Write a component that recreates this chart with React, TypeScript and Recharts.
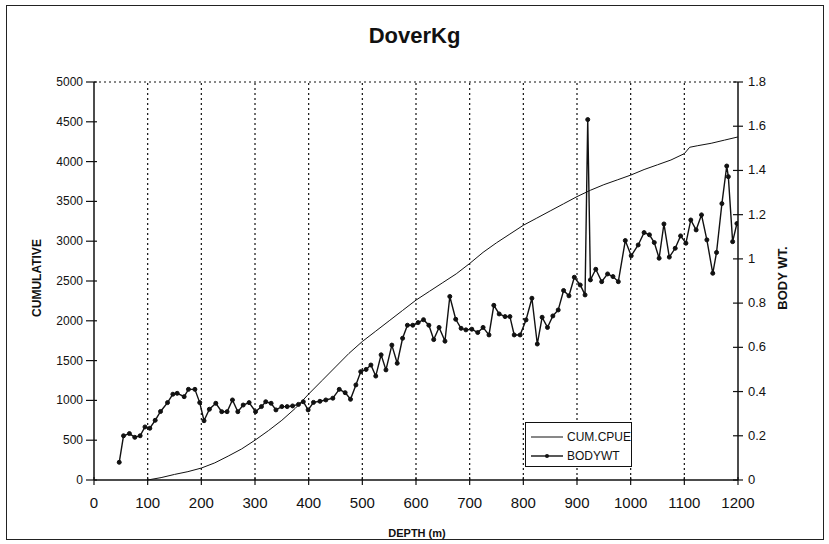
import React from 'react';
import { LineChart, Line, XAxis, YAxis, CartesianGrid, ReferenceLine } from 'recharts';

const xTicks = [0, 100, 200, 300, 400, 500, 600, 700, 800, 900, 1000, 1100, 1200];
const leftTicks = [0, 500, 1000, 1500, 2000, 2500, 3000, 3500, 4000, 4500, 5000];
const rightTicks = [0, 0.2, 0.4, 0.6, 0.8, 1, 1.2, 1.4, 1.6, 1.8];

const cumDepth = [100, 125, 150, 175, 200, 225, 250, 275, 300, 325, 350, 375, 400, 425, 450, 475, 500, 525, 550, 575, 600, 625, 650, 675, 700, 725, 750, 775, 800, 825, 850, 875, 900, 925, 950, 975, 1000, 1025, 1050, 1075, 1100, 1110, 1125, 1150, 1175, 1200];
const cumValue = [0, 30, 70, 105, 150, 215, 300, 390, 500, 620, 750, 900, 1080, 1250, 1420, 1590, 1740, 1870, 2000, 2130, 2260, 2370, 2480, 2590, 2720, 2860, 2980, 3090, 3200, 3290, 3380, 3470, 3560, 3640, 3710, 3770, 3830, 3900, 3960, 4020, 4100, 4180, 4200, 4230, 4270, 4310];

const bodyDepth = [47, 55, 66, 76, 86, 95, 104, 114, 124, 137, 147, 155, 168, 176, 188, 197, 205, 215, 227, 238, 248, 258, 268, 278, 289, 301, 312, 320, 330, 339, 350, 360, 370, 381, 390, 399, 409, 421, 432, 445, 457, 468, 478, 488, 497, 507, 516, 525, 535, 544, 555, 565, 575, 584, 594, 604, 614, 624, 633, 643, 654, 663, 674, 684, 693, 704, 715, 725, 736, 745, 755, 766, 775, 783, 794, 805, 816, 826, 835, 845, 855, 865, 875, 885, 895, 906, 915, 920, 925, 935, 946, 957, 967, 977, 990, 1001, 1014, 1025, 1035, 1044, 1053, 1062, 1072, 1083, 1093, 1103, 1112, 1122, 1132, 1142, 1153, 1160, 1170, 1179, 1182, 1190, 1198];
const bodyValue = [0.08, 0.2, 0.21, 0.193, 0.2, 0.24, 0.234, 0.27, 0.31, 0.35, 0.388, 0.392, 0.377, 0.41, 0.41, 0.35, 0.268, 0.32, 0.347, 0.309, 0.309, 0.362, 0.309, 0.339, 0.35, 0.309, 0.332, 0.354, 0.347, 0.317, 0.332, 0.332, 0.335, 0.342, 0.354, 0.317, 0.351, 0.356, 0.362, 0.37, 0.41, 0.395, 0.365, 0.43, 0.49, 0.5, 0.52, 0.47, 0.566, 0.498, 0.61, 0.528, 0.641, 0.7, 0.7, 0.712, 0.725, 0.7, 0.635, 0.69, 0.628, 0.83, 0.727, 0.686, 0.679, 0.682, 0.667, 0.69, 0.656, 0.79, 0.751, 0.739, 0.739, 0.656, 0.656, 0.724, 0.822, 0.615, 0.736, 0.69, 0.742, 0.769, 0.857, 0.833, 0.917, 0.882, 0.837, 1.63, 0.905, 0.953, 0.897, 0.932, 0.92, 0.897, 1.083, 1.014, 1.063, 1.119, 1.109, 1.074, 1.003, 1.158, 1.008, 1.048, 1.104, 1.071, 1.176, 1.131, 1.199, 1.086, 0.935, 1.029, 1.25, 1.42, 1.372, 1.078, 1.16];

const cumData = cumDepth.map((x, i) => ({ x, y: cumValue[i] }));
const bodyData = bodyDepth.map((x, i) => ({ x, y: bodyValue[i] }));

const FONT = '"Liberation Sans", Arial, sans-serif';

const LeftTick = (props: any) => {
  const { x, y, payload } = props;
  const ax = x + 11;
  return (
    <g>
      <line x1={ax - 8} y1={y} x2={ax + 3} y2={y} stroke="#111" strokeWidth={1.2} />
      <text x={x} y={y + 4} textAnchor="end" fontSize={12} fontFamily={FONT} fill="#111">{payload.value}</text>
    </g>
  );
};

const RightTick = (props: any) => {
  const { x, y, payload } = props;
  const ax = x - 10;
  return (
    <g>
      <line x1={ax - 5} y1={y} x2={ax + 5} y2={y} stroke="#111" strokeWidth={1.2} />
      <text x={x} y={y + 4} textAnchor="start" fontSize={13} fontFamily={FONT} fill="#111">{payload.value}</text>
    </g>
  );
};

const BottomTick = (props: any) => {
  const { x, y, payload } = props;
  const ay = y - 13;
  return (
    <g>
      <line x1={x} y1={ay - 3} x2={x} y2={ay + 5} stroke="#111" strokeWidth={1.2} />
      <text x={x} y={ay + 28} textAnchor="middle" fontSize={15} fontFamily={FONT} fill="#111">{payload.value}</text>
    </g>
  );
};

export default function App() {
  return (
    <div style={{ position: 'absolute', left: 0, top: 0, width: 829, height: 544, background: '#fff', fontFamily: FONT }}>
      <div style={{ position: 'absolute', left: 6, top: 5, width: 818, height: 535, border: '1.5px solid #222', boxSizing: 'border-box' }} />
      <div style={{ position: 'absolute', left: 0, width: 829, top: 23, textAlign: 'center', fontSize: 22, fontWeight: 'bold', color: '#111', fontFamily: FONT }}>DoverKg</div>
      <LineChart width={829} height={544} margin={{ top: 82, right: 31, left: 34, bottom: 34 }}>
        <CartesianGrid horizontal={false} vertical={false} />
        <XAxis
          type="number"
          dataKey="x"
          domain={[0, 1200]}
          ticks={xTicks}
          allowDataOverflow
          height={30}
          tickSize={5}
          tickMargin={8}
          tickLine={false}
          tick={<BottomTick />}
          axisLine={{ stroke: '#111', strokeWidth: 1.5 }}
          interval={0}
        />
        <YAxis
          yAxisId="left"
          orientation="left"
          domain={[0, 5000]}
          ticks={leftTicks}
          width={60}
          tickSize={8}
          tickMargin={3}
          tickLine={false}
          tick={<LeftTick />}
          axisLine={{ stroke: '#111', strokeWidth: 1.5 }}
          interval={0}
        />
        <YAxis
          yAxisId="right"
          orientation="right"
          domain={[0, 1.8]}
          ticks={rightTicks}
          width={60}
          tickSize={5}
          tickMargin={5}
          tickLine={false}
          tick={<RightTick />}
          axisLine={{ stroke: '#111', strokeWidth: 1.5 }}
          interval={0}
        />
        <ReferenceLine yAxisId="left" y={5000} stroke="#111" strokeDasharray="2 3" />
        {[100, 200, 300, 400, 500, 600, 700, 800, 900, 1000, 1100].map((v) => (
          <ReferenceLine key={v} yAxisId="left" x={v} stroke="#111" strokeWidth={1.2} strokeDasharray="2 3" />
        ))}
        <Line
          yAxisId="left"
          data={cumData}
          dataKey="y"
          type="linear"
          stroke="#111"
          strokeWidth={1}
          dot={false}
          isAnimationActive={false}
          name="CUM.CPUE"
        />
        <Line
          yAxisId="right"
          data={bodyData}
          dataKey="y"
          type="linear"
          stroke="#111"
          strokeWidth={1.4}
          dot={{ r: 2, fill: '#111', stroke: '#111', strokeWidth: 1 }}
          isAnimationActive={false}
          name="BODYWT"
        />
      </LineChart>
      <div style={{ position: 'absolute', left: 37, top: 278, transform: 'translate(-50%, -50%) rotate(-90deg)', fontSize: 12, fontWeight: 'bold', color: '#111', whiteSpace: 'nowrap' }}>CUMULATIVE</div>
      <div style={{ position: 'absolute', left: 782, top: 278, transform: 'translate(-50%, -50%) rotate(-90deg)', fontSize: 13, fontWeight: 'bold', color: '#111', whiteSpace: 'nowrap' }}>BODY WT.</div>
      <div style={{ position: 'absolute', left: 417, top: 533, transform: 'translate(-50%, -50%)', fontSize: 11, fontWeight: 'bold', color: '#111', whiteSpace: 'nowrap' }}>DEPTH (m)</div>
      <div style={{ position: 'absolute', left: 525, top: 422, width: 107, height: 45, border: '1.5px solid #111', boxSizing: 'border-box', background: '#fff', fontSize: 12, color: '#111' }}>
        <div style={{ position: 'absolute', left: 5, top: 7, display: 'flex', alignItems: 'center' }}>
          <svg width={32} height={8}><line x1={0} y1={4} x2={32} y2={4} stroke="#111" strokeWidth={1} /></svg>
          <span style={{ marginLeft: 4 }}>CUM.CPUE</span>
        </div>
        <div style={{ position: 'absolute', left: 5, top: 26, display: 'flex', alignItems: 'center' }}>
          <svg width={32} height={8}><line x1={0} y1={4} x2={32} y2={4} stroke="#111" strokeWidth={1.4} /><circle cx={16} cy={4} r={2} fill="#111" /></svg>
          <span style={{ marginLeft: 4 }}>BODYWT</span>
        </div>
      </div>
    </div>
  );
}
